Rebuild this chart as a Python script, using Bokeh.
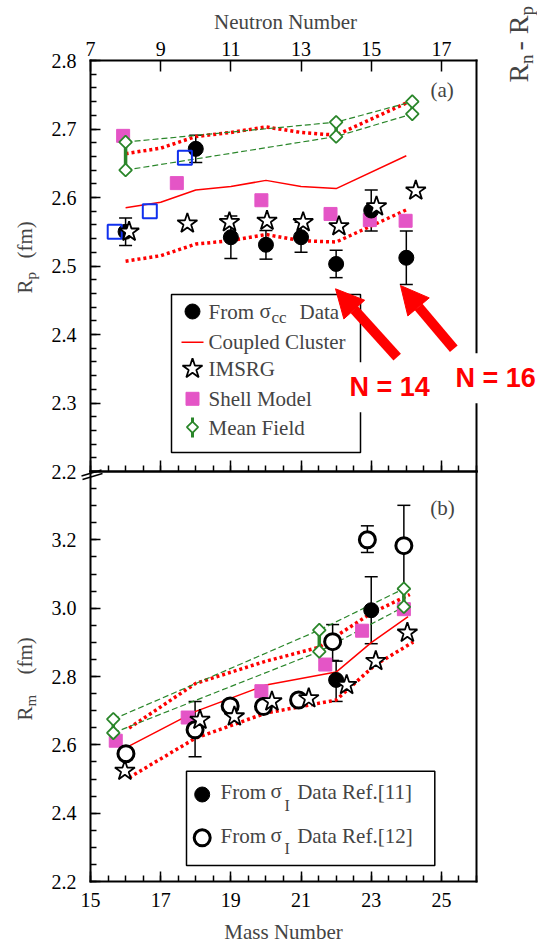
import numpy as np
from bokeh.plotting import figure
from bokeh.models import (Range1d, LinearAxis, FixedTicker, PrintfTickFormatter, Whisker,
                          TeeHead, ColumnDataSource, Label, Arrow, NormalHead)
from bokeh.embed import file_html
from bokeh.resources import INLINE

# ---------------- panel (a): proton radius vs neutron number ----------------
N_data = [8, 10, 11, 12, 13, 14, 15, 16]
Rp_data = [2.550, 2.671, 2.542, 2.531, 2.542, 2.503, 2.581, 2.512]
Rp_err = [0.020, 0.020, 0.031, 0.021, 0.022, 0.020, 0.030, 0.039]

N_cc = [8, 9, 10, 11, 12, 13, 14, 16]
Rp_cc = [2.585, 2.593, 2.611, 2.616, 2.625, 2.616, 2.613, 2.661]
Rp_cc_hi = [2.664, 2.672, 2.689, 2.695, 2.703, 2.695, 2.691, 2.738]
Rp_cc_lo = [2.507, 2.515, 2.532, 2.537, 2.546, 2.537, 2.535, 2.582]

N_im = [8.1, 9.76, 10.96, 12.03, 13.06, 14.08, 15.15, 16.27]
Rp_im = [2.550, 2.562, 2.564, 2.566, 2.564, 2.558, 2.587, 2.610]

N_sm = [7.93, 9.46, 11.87, 13.84, 14.96, 15.98]
Rp_sm = [2.690, 2.621, 2.596, 2.576, 2.567, 2.566]

N_bl = [7.69, 8.69, 9.69]
Rp_bl = [2.550, 2.580, 2.658]

N_mf = [8, 14, 16.17]
Rp_mf_hi = [2.681, 2.710, 2.740]
Rp_mf_lo = [2.640, 2.689, 2.722]
Rp_mf_bar = [2.694, 2.711, 2.740]

# ---------------- panel (b): matter radius vs mass number ----------------
A_r11 = [22, 23]
Rm_r11 = [2.790, 2.994]
Rm_r11_hi = [2.845, 3.092]
Rm_r11_lo = [2.727, 2.896]

A_r12 = [16.01, 17.98, 18.98, 19.93, 20.93, 21.9, 22.89, 23.93]
Rm_r12 = [2.574, 2.644, 2.714, 2.712, 2.731, 2.902, 3.200, 3.183]
Rm_r12_hi = [2.590, 2.727, 2.730, 2.726, 2.747, 2.952, 3.241, 3.301]
Rm_r12_lo = [2.558, 2.565, 2.698, 2.698, 2.715, 2.847, 3.163, 3.055]

A_cc = [16, 18, 20, 22, 23, 24.05]
Rm_cc = [2.591, 2.698, 2.775, 2.813, 2.899, 2.975]
A_cc_hi = [16.1, 18, 20, 21.5, 23, 24.1]
Rm_cc_hi = [2.649, 2.780, 2.845, 2.885, 2.985, 3.040]
A_cc_lo = [16.1, 18, 20, 22, 23.1, 24.2]
Rm_cc_lo = [2.504, 2.620, 2.693, 2.731, 2.833, 2.901]

A_im = [15.98, 18.12, 19.1, 20.17, 21.22, 22.3, 23.13, 24.03]
Rm_im = [2.524, 2.673, 2.683, 2.727, 2.736, 2.775, 2.845, 2.928]

A_sm = [15.72, 17.77, 19.87, 21.69, 22.74, 23.93]
Rm_sm = [2.612, 2.680, 2.757, 2.835, 2.934, 2.997]

A_mf = [15.65, 21.52, 23.93]
Rm_mf_hi = [2.675, 2.936, 3.057]
Rm_mf_lo = [2.635, 2.873, 3.004]

# ---------------- ticks ----------------
top_ticks = [7, 9, 11, 13, 15, 17]
mass_ticks = [15, 17, 19, 21, 23, 25]
rp_ticks = [2.2, 2.3, 2.4, 2.5, 2.6, 2.7, 2.8]
rm_ticks = [2.2, 2.4, 2.6, 2.8, 3.0, 3.2]

FONT = "Liberation Serif"
RED = "#ff0000"
GREEN = "#2a862a"
MAG = "#e455c6"
BLUE = "#1030ee"

# ---------------- layout geometry (pixels) ----------------
W, H = 537, 943
FL, FR = 90, 476          # frame left / right of both panels
A_T, A_B = 60, 471        # panel (a) top / bottom
B_T, B_B = 471, 881       # panel (b) top / bottom
XPP = 11.0 / (FR - FL)
AYPP = 0.6 / (A_B - A_T)
BYPP = 1.2 / (B_B - B_T)


def ax_(px):
    return 7 + (px - FL) * XPP


def ay_(py):
    return 2.8 - (py - A_T) * AYPP


def bx_(px):
    return 15 + (px - FL) * XPP


def by_(py):
    return 3.4 - (py - B_T) * BYPP


p = figure(width=W, height=H, x_range=Range1d(ax_(0), ax_(W)), y_range=Range1d(ay_(H), ay_(0)),
           x_axis_location=None, y_axis_location=None, output_backend="svg",
           toolbar_location=None, min_border=0, min_border_left=0, min_border_right=0,
           min_border_top=0, min_border_bottom=0)
p.extra_x_ranges = {"m": Range1d(bx_(0), bx_(W))}
p.extra_y_ranges = {"b": Range1d(by_(H), by_(0))}
p.outline_line_color = None
p.grid.visible = False
p.background_fill_color = "white"
p.border_fill_color = "white"

B = dict(x_range_name="m", y_range_name="b")


def fixed_axis(side, loc, bounds, ticks, minor=(), tin=10, min_in=6, standoff=5, fmt=None, **kw):
    ax = LinearAxis(fixed_location=loc, bounds=bounds,
                    ticker=FixedTicker(ticks=list(ticks), minor_ticks=list(minor)), **kw)
    if fmt is not None:
        ax.formatter = fmt
    ax.major_tick_in = tin
    ax.major_tick_out = 0
    ax.minor_tick_in = min_in
    ax.minor_tick_out = 0
    ax.axis_line_width = 2
    ax.axis_line_cap = "square"
    ax.major_tick_line_width = 1.5
    ax.minor_tick_line_width = 1.5
    ax.major_label_text_font = FONT
    ax.major_label_text_font_size = "20px"
    ax.major_label_text_color = "black"
    ax.major_label_standoff = standoff
    p.add_layout(ax, side)
    return ax


f1 = PrintfTickFormatter(format="%.1f")
f0 = PrintfTickFormatter(format="%d")
# panel (a) frame
fixed_axis("left", 7, (2.2, 2.8), rp_ticks, np.round(np.arange(2.2, 2.8001, 0.02), 3),
           standoff=14, fmt=f1)
fixed_axis("above", 2.8, (7, 18), top_ticks, tin=11, standoff=5, fmt=f0)
fixed_axis("below", 2.2, (7, 18), [], np.arange(7, 18.01, 0.5), min_in=6)
fixed_axis("below", 2.2, (7, 18), [], top_ticks, min_in=11)
fixed_axis("right", 18, (2.2, 2.8), [])
# panel (b) frame
fixed_axis("left", 15, (2.2, 3.4), rm_ticks, np.round(np.arange(2.2, 3.4001, 0.05), 3),
           standoff=14, fmt=f1, **B)
fixed_axis("below", 2.2, (15, 26), mass_ticks, np.arange(15, 26.01, 0.5), standoff=11, fmt=f0, **B)
fixed_axis("right", 26, (2.2, 3.4), [], **B)


def lab(x, y, text, size="21px", font=FONT, baseline="middle", align="left", **kw):
    l = Label(x=x, y=y, text=text, text_font=font, text_font_size=size,
              text_baseline=baseline, text_align=align, **kw)
    p.add_layout(l)
    return l


# ======================= panel (a) marks =======================
p.line(N_cc, Rp_cc_hi, line_color=RED, line_width=3.5, line_dash="3 3")
p.line(N_cc, Rp_cc_lo, line_color=RED, line_width=3.5, line_dash="3 3")
p.line(N_cc, Rp_cc, line_color=RED, line_width=1.5)
p.line(N_mf, Rp_mf_hi, line_color=GREEN, line_width=1.2, line_dash="6 3")
p.line(N_mf, Rp_mf_lo, line_color=GREEN, line_width=1.2, line_dash="6 3")
p.segment(x0=N_mf, y0=Rp_mf_lo, x1=N_mf, y1=Rp_mf_bar, line_color=GREEN, line_width=3.5)
p.scatter(N_sm, Rp_sm, marker="square", size=13, fill_color=MAG, line_color=MAG)
p.scatter(N_mf + N_mf, Rp_mf_hi + Rp_mf_lo, marker="square", angle=np.pi / 4, size=9,
          fill_color="white", line_color=GREEN, line_width=1.8)

src_a = ColumnDataSource(dict(x=N_data, y=Rp_data,
                              up=[v + e for v, e in zip(Rp_data, Rp_err)],
                              lo=[v - e for v, e in zip(Rp_data, Rp_err)]))
p.add_layout(Whisker(source=src_a, base="x", upper="up", lower="lo", dimension="height",
                     line_width=1.5, line_color="black",
                     upper_head=TeeHead(size=13, line_width=1.5),
                     lower_head=TeeHead(size=13, line_width=1.5)))
p.scatter("x", "y", source=src_a, marker="circle", size=15, fill_color="black", line_color="black")
p.scatter(N_bl, Rp_bl, marker="square", size=14, fill_color="white", fill_alpha=0.0,
          line_color=BLUE, line_width=2)
p.scatter(N_im, Rp_im, marker="star", size=21, fill_color="white", line_color="black", line_width=1.8)

# legend (a)
p.quad(left=ax_(171), right=ax_(360), top=ay_(294), bottom=ay_(452),
       fill_color="white", line_color="black", line_width=1.5)
p.scatter([ax_(192)], [ay_(311)], marker="circle", size=15, fill_color="black", line_color="black")
p.line([ax_(181), ax_(203)], [ay_(341.7), ay_(341.7)], line_color=RED, line_width=1.5)
p.scatter([ax_(192)], [ay_(368.3)], marker="star", size=21, fill_color="white",
          line_color="black", line_width=1.8)
p.scatter([ax_(192)], [ay_(398.3)], marker="square", size=13, fill_color=MAG, line_color=MAG)
p.segment(x0=[ax_(192)], y0=[ay_(417)], x1=[ax_(192)], y1=[ay_(437)], line_color=GREEN, line_width=3)
p.scatter([ax_(192)], [ay_(426.7)], marker="square", angle=np.pi / 4, size=8,
          fill_color="white", line_color=GREEN, line_width=1.8)

lab(ax_(208), ay_(311), "From")
lab(ax_(259), ay_(310), "σ")
lab(ax_(271), ay_(316.5), "cc", size="17px")
lab(ax_(299), ay_(311), "Data")
lab(ax_(208), ay_(341.7), "Coupled Cluster")
lab(ax_(208), ay_(368.3), "IMSRG")
lab(ax_(208), ay_(398.3), "Shell Model")
lab(ax_(208), ay_(427), "Mean Field")
lab(ax_(441.7), ay_(89), "(a)", align="center")

# axis titles of panel (a)
lab(ax_(285), ay_(21.5), "Neutron Number", align="center")
lab(ax_(24), ay_(293), "R", angle=np.pi / 2)
lab(ax_(30.5), ay_(279), "p", size="15px", angle=np.pi / 2)
lab(ax_(24), ay_(258), "(fm)", angle=np.pi / 2)

# arrows and N labels
p.add_layout(Arrow(x_start=ax_(396.7), y_start=ay_(356.7), x_end=ax_(335), y_end=ay_(288.3),
                   line_color=RED, line_width=10,
                   end=NormalHead(size=28, fill_color=RED, line_color=RED)))
p.add_layout(Arrow(x_start=ax_(453.3), y_start=ay_(348.3), x_end=ax_(400), y_end=ay_(285),
                   line_color=RED, line_width=10,
                   end=NormalHead(size=28, fill_color=RED, line_color=RED)))
for px, py, t in [(339, 386.7, "N = 14"), (445, 377.7, "N = 16")]:
    lab(ax_(px), ay_(py), t, size="27px", font="Liberation Sans", baseline="alphabetic",
        text_font_style="bold", text_color=RED, background_fill_color="white", padding=10)

# clipped neighbouring-panel label on the right edge
lab(ax_(517.5), ay_(82), "R", size="28px", angle=np.pi / 2)
lab(ax_(525.5), ay_(63.5), "n", size="19px", angle=np.pi / 2)
lab(ax_(517.5), ay_(50), "- R", size="28px", angle=np.pi / 2)
lab(ax_(525.5), ay_(15), "p", size="19px", angle=np.pi / 2)

# ======================= panel (b) marks =======================
p.line(A_cc_hi, Rm_cc_hi, line_color=RED, line_width=3.5, line_dash="3 3", **B)
p.line(A_cc_lo, Rm_cc_lo, line_color=RED, line_width=3.5, line_dash="3 3", **B)
p.line(A_cc, Rm_cc, line_color=RED, line_width=1.5, **B)
p.line(A_mf, Rm_mf_hi, line_color=GREEN, line_width=1.2, line_dash="6 3", **B)
p.line(A_mf, Rm_mf_lo, line_color=GREEN, line_width=1.2, line_dash="6 3", **B)
p.segment(x0=A_mf, y0=Rm_mf_lo, x1=A_mf, y1=Rm_mf_hi, line_color=GREEN, line_width=3.5, **B)
p.scatter(A_sm, Rm_sm, marker="square", size=13, fill_color=MAG, line_color=MAG, **B)
p.scatter(A_mf + A_mf, Rm_mf_hi + Rm_mf_lo, marker="square", angle=np.pi / 4, size=9,
          fill_color="white", line_color=GREEN, line_width=1.8, **B)

src12 = ColumnDataSource(dict(x=A_r12, y=Rm_r12, up=Rm_r12_hi, lo=Rm_r12_lo))
src11 = ColumnDataSource(dict(x=A_r11, y=Rm_r11, up=Rm_r11_hi, lo=Rm_r11_lo))
for s in (src12, src11):
    p.add_layout(Whisker(source=s, base="x", upper="up", lower="lo", dimension="height",
                         line_width=1.5, line_color="black",
                         upper_head=TeeHead(size=13, line_width=1.5),
                         lower_head=TeeHead(size=13, line_width=1.5), **B))
p.scatter("x", "y", source=src11, marker="circle", size=15, fill_color="black",
          line_color="black", **B)
p.scatter("x", "y", source=src12, marker="circle", size=16, fill_color="white",
          line_color="black", line_width=3, **B)
p.scatter(A_im, Rm_im, marker="star", size=21, fill_color="white", line_color="black",
          line_width=1.8, **B)

# legend (b)
p.quad(left=bx_(186), right=bx_(434.3), top=by_(770.7), bottom=by_(865),
       fill_color="white", line_color="black", line_width=1.5, **B)
p.scatter([bx_(201.7)], [by_(794)], marker="circle", size=15, fill_color="black",
          line_color="black", **B)
p.scatter([bx_(201.7)], [by_(837.3)], marker="circle", size=16, fill_color="white",
          line_color="black", line_width=3, **B)
for yy in (791.7, 835.3):
    lab(bx_(220), by_(yy), "From", **B)
    lab(bx_(270), by_(yy - 1), "σ", **B)
    lab(bx_(284), by_(yy + 13), "I", size="16px", **B)
lab(bx_(296.7), by_(791.7), "Data Ref.[11]", **B)
lab(bx_(296.7), by_(835.3), "Data Ref.[12]", **B)
lab(bx_(442), by_(507), "(b)", align="center", **B)

# axis titles of panel (b)
lab(bx_(283), by_(931.5), "Mass Number", align="center", **B)
lab(bx_(24), by_(720), "R", angle=np.pi / 2, **B)
lab(bx_(30.5), by_(706), "m", size="15px", angle=np.pi / 2, **B)
lab(bx_(24), by_(674), "(fm)", angle=np.pi / 2, **B)

# axis break mark
for (x0, y0, x1, y1) in [(81, 475.5, 101, 469.5), (82, 479, 102, 473)]:
    p.add_layout(Arrow(x_start=bx_(x0), y_start=by_(y0), x_end=bx_(x1), y_end=by_(y1),
                       start=None, end=None, line_color="black", line_width=1.5, **B))

open("out.html", "w").write(file_html(p, INLINE))
